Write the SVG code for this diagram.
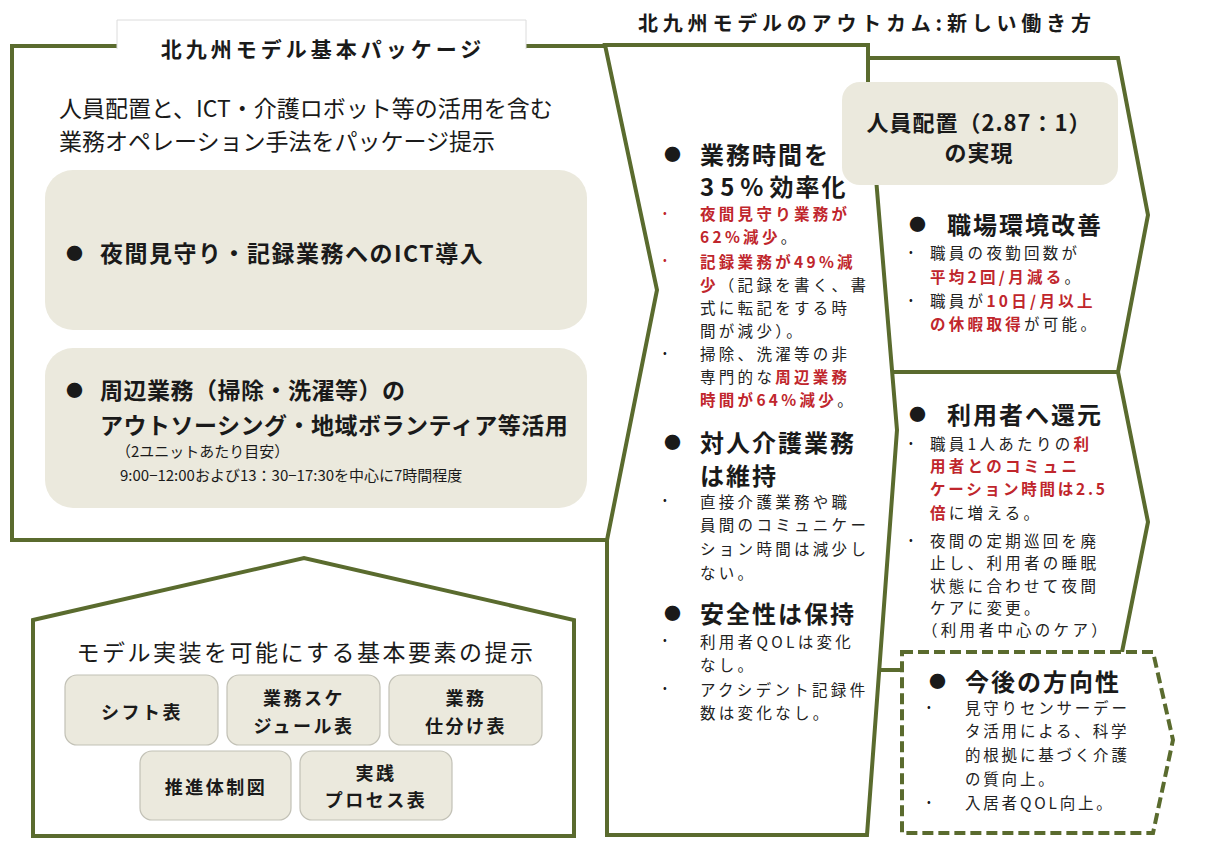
<svg xmlns="http://www.w3.org/2000/svg" width="1212" height="862" viewBox="0 0 1212 862">
<style>
text { font-family: "Noto Sans CJK JP", "Noto Sans", sans-serif; dominant-baseline: central; fill: #1a1a1a; }
.ol { fill: none; stroke: #5a6b2e; stroke-width: 4; stroke-linejoin: miter; }
.olf { fill: #ffffff; stroke: #5a6b2e; stroke-width: 4; stroke-linejoin: miter; }
.dash { fill: #ffffff; stroke: #5a6b2e; stroke-width: 4; stroke-dasharray: 11 5; }
.gbox { fill: #ebe9dd; }
.sbox { fill: #ebe9dd; stroke: #c2c1b6; stroke-width: 1.2; }
.ttl { font-size: 20px; font-weight: bold; letter-spacing: 4.8px; }
.tab { font-size: 21px; font-weight: bold; letter-spacing: 4px; }
.lead { font-size: 23px; letter-spacing: 0px; }
.bx { font-size: 23px; font-weight: bold; letter-spacing: 0.5px; }
.bxs { font-size: 15px; }
.h { font-size: 24px; font-weight: bold; letter-spacing: 2px; }
.bul { font-size: 17px; }
.sb { font-size: 11px; }
.s { font-size: 15.5px; letter-spacing: 3.3px; fill: #222; }
.r { fill: #c0262c; font-weight: bold; }
.k { font-size: 18px; font-weight: bold; letter-spacing: 2.5px; text-anchor: middle; }
.ht { font-size: 23px; letter-spacing: 2.5px; text-anchor: middle; }
</style>

<text class="ttl" x="638" y="22">北九州モデルのアウトカム:新しい働き方</text>

<g id="left-package">
  <path class="olf" d="M607,46 L12,46 L12,540 L607,540"/>
  <rect x="117" y="20" width="409" height="29" fill="#ffffff"/>
  <path d="M117,49 L117,20 L526,20 L526,49" fill="none" stroke="#dcdcdc" stroke-width="1"/>
  <text class="tab" x="323" y="48" text-anchor="middle">北九州モデル基本パッケージ</text>
  <text class="lead" x="59" y="107">人員配置と、ICT・介護ロボット等の活用を含む</text>
  <text class="lead" x="59" y="140">業務オペレーション手法をパッケージ提示</text>
  <rect class="gbox" x="45" y="170" width="542" height="160" rx="28"/>
  <text class="bul" x="66" y="252">●</text>
  <text class="bx" x="100" y="252" style="letter-spacing:1.5px">夜間見守り・記録業務へのICT導入</text>
  <rect class="gbox" x="45" y="348" width="542" height="160" rx="28"/>
  <text class="bul" x="66" y="389">●</text>
  <text class="bx" x="100" y="389">周辺業務（掃除・洗濯等）の</text>
  <text class="bx" x="100" y="424">アウトソーシング・地域ボランティア等活用</text>
  <text class="bxs" x="116" y="450">（2ユニットあたり目安）</text>
  <text class="bxs" x="120" y="474">9:00−12:00および13：30−17:30を中心に7時間程度</text>
</g>

<g id="house">
  <path class="olf" d="M33,620 L304,558 L574,620 L574,836 L33,836 Z"/>
  <text class="ht" x="306" y="651">モデル実装を可能にする基本要素の提示</text>
  <g id="k-shift">
    <rect class="sbox" x="65" y="675" width="153" height="70" rx="12"/>
    <text class="k" x="142" y="711">シフト表</text>
  </g>
  <g id="k-schedule">
    <rect class="sbox" x="227" y="675" width="153" height="70" rx="12"/>
    <text class="k" x="304" y="697">業務スケ</text>
    <text class="k" x="304" y="725">ジュール表</text>
  </g>
  <g id="k-sort">
    <rect class="sbox" x="389" y="675" width="153" height="70" rx="12"/>
    <text class="k" x="466" y="697">業務</text>
    <text class="k" x="466" y="725">仕分け表</text>
  </g>
  <g id="k-system">
    <rect class="sbox" x="140" y="751" width="151" height="69" rx="12"/>
    <text class="k" x="216" y="786">推進体制図</text>
  </g>
  <g id="k-process">
    <rect class="sbox" x="300" y="751" width="152" height="69" rx="12"/>
    <text class="k" x="376" y="772">実践</text>
    <text class="k" x="376" y="799">プロセス表</text>
  </g>
</g>

<g id="middle-outcome">
  <path class="olf" d="M605,45 L868,45 L868,82 L897,430 L867,835 L607,835 L607,540 L657,290 Z"/>
  <text class="bul" x="664" y="153">●</text>
  <text class="h" x="700" y="153">業務時間を</text>
  <text class="h" x="700" y="185"><tspan style="letter-spacing:6px">35%</tspan>効率化</text>
  <text class="sb" x="663" y="212" style="fill:#c0262c">•</text>
  <text class="s" x="700" y="213"><tspan class="r">夜間見守り業務が</tspan></text>
  <text class="s" x="700" y="236"><tspan class="r">62%減少</tspan>。</text>
  <text class="sb" x="663" y="259" style="fill:#c0262c">•</text>
  <text class="s" x="700" y="261"><tspan class="r">記録業務が49%減</tspan></text>
  <text class="s" x="700" y="284"><tspan class="r">少</tspan>（記録を書く、書</text>
  <text class="s" x="700" y="307">式に転記をする時</text>
  <text class="s" x="700" y="330">間が減少）。</text>
  <text class="sb" x="663" y="352">•</text>
  <text class="s" x="700" y="353">掃除、洗濯等の非</text>
  <text class="s" x="700" y="376">専門的な<tspan class="r">周辺業務</tspan></text>
  <text class="s" x="700" y="399"><tspan class="r">時間が64%減少</tspan>。</text>

  <text class="bul" x="664" y="441">●</text>
  <text class="h" x="700" y="441">対人介護業務</text>
  <text class="h" x="700" y="474">は維持</text>
  <text class="sb" x="663" y="499">•</text>
  <text class="s" x="700" y="501">直接介護業務や職</text>
  <text class="s" x="700" y="524">員間のコミュニケー</text>
  <text class="s" x="700" y="548">ション時間は減少し</text>
  <text class="s" x="700" y="572">ない。</text>

  <text class="bul" x="664" y="612">●</text>
  <text class="h" x="700" y="612">安全性は保持</text>
  <text class="sb" x="663" y="639">•</text>
  <text class="s" x="700" y="641">利用者QOLは変化</text>
  <text class="s" x="700" y="664">なし。</text>
  <text class="sb" x="663" y="687">•</text>
  <text class="s" x="700" y="689">アクシデント記録件</text>
  <text class="s" x="700" y="712">数は変化なし。</text>
</g>

<g id="right-env">
  <path class="ol" d="M868,58 L1118,58 L1148,215 L1118,372 L891,372"/>
  <text class="bul" x="909" y="223">●</text>
  <text class="h" x="947" y="223">職場環境改善</text>
  <text class="sb" x="909" y="251">•</text>
  <text class="s" x="930" y="252">職員の夜勤回数が</text>
  <text class="s" x="930" y="276"><tspan class="r">平均2回/月減る</tspan>。</text>
  <text class="sb" x="909" y="299">•</text>
  <text class="s" x="930" y="300">職員が<tspan class="r">10日/月以上</tspan></text>
  <text class="s" x="930" y="323"><tspan class="r">の休暇取得</tspan>が可能。</text>
</g>

<g id="right-user">
  <path class="ol" d="M1118,372 L1148,522 L1122,652"/>
  <text class="bul" x="909" y="413">●</text>
  <text class="h" x="947" y="413">利用者へ還元</text>
  <text class="sb" x="909" y="442">•</text>
  <text class="s" x="930" y="443">職員1人あたりの<tspan class="r">利</tspan></text>
  <text class="s" x="930" y="465"><tspan class="r">用者とのコミュニ</tspan></text>
  <text class="s" x="930" y="488"><tspan class="r" style="letter-spacing:2.8px">ケーション時間は2.5</tspan></text>
  <text class="s" x="930" y="512"><tspan class="r">倍</tspan>に増える。</text>
  <text class="sb" x="909" y="539">•</text>
  <text class="s" x="930" y="540">夜間の定期巡回を廃</text>
  <text class="s" x="930" y="562">止し、利用者の睡眠</text>
  <text class="s" x="930" y="585">状態に合わせて夜間</text>
  <text class="s" x="930" y="607">ケアに変更。</text>
  <text class="s" x="922" y="629">（利用者中心のケア）</text>
</g>

<g id="right-staffing">
  <rect class="gbox" x="842" y="82" width="276" height="103" rx="18"/>
  <text class="h" x="979" y="121" text-anchor="middle" style="font-size:22px;letter-spacing:1px">人員配置（2.87：1）</text>
  <text class="h" x="979" y="151" text-anchor="middle" style="font-size:22px;letter-spacing:1px">の実現</text>
</g>

<g id="future">
  <path class="dash" d="M902,652 L1153,652 L1173,740 L1153,833 L902,833 Z"/>
  <text class="bul" x="929" y="680">●</text>
  <text class="h" x="965" y="680">今後の方向性</text>
  <text class="sb" x="927" y="706">•</text>
  <text class="s" x="965" y="707" style="letter-spacing:2.8px">見守りセンサーデー</text>
  <text class="s" x="965" y="730" style="letter-spacing:2.8px">タ活用による、科学</text>
  <text class="s" x="965" y="754" style="letter-spacing:2.8px">的根拠に基づく介護</text>
  <text class="s" x="965" y="778" style="letter-spacing:2.8px">の質向上。</text>
  <text class="sb" x="927" y="801">•</text>
  <text class="s" x="965" y="802" style="letter-spacing:2.8px">入居者QOL向上。</text>
</g>

<g id="connectors">
  <path class="ol" d="M879,670 L902,670"/>
</g>
</svg>
